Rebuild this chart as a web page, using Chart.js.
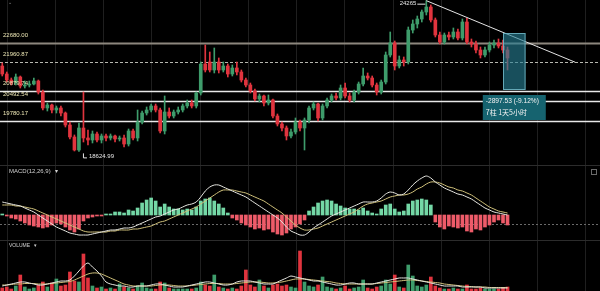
<!DOCTYPE html>
<html>
<head>
<meta charset="utf-8">
<script src="https://cdn.jsdelivr.net/npm/chart.js@4/dist/chart.umd.min.js"></script>
<style>
  html, body { margin: 0; padding: 0; background: #000; }
  #wrap { position: relative; width: 600px; height: 291px; }
</style>
</head>
<body>
<div id="wrap"><canvas id="chart"></canvas></div>
<script>
// 113 candles, then empty slots to the right for the drawings
const slotCount = 133;

const opens = [
  21820,21521,21296,21184,21409,21072,21109,21147,21259,20847,
  20249,20361,20174,20249,20061,19612,19164,18677,19500,19126,
  19051,19276,19051,19201,19126,19201,19089,19126,18901,19388,
  19126,19725,20061,20174,20324,20174,19388,20099,19949,20099,
  20174,20324,20436,20324,20810,21895,21970,21671,21970,21671,
  21820,21521,21746,21596,21296,21109,20885,20585,20698,20436,
  20548,19949,19650,19500,19201,19351,19725,19500,19800,20249,
  20398,19874,20324,20548,20698,20623,20997,20698,20548,20847,
  21147,21446,21371,21109,20847,21221,22232,22681,21820,22045,
  21970,23167,23392,23579,23841,24028,23542,22980,22718,22980,
  22906,23093,22868,23467,22718,22643,22419,22232,22419,22606,
  22681,22569,22419
];
const closes = [
  21521,21296,21184,21409,21072,21109,21147,21259,20847,20249,
  20361,20174,20249,20061,19612,19164,18677,19500,19126,19051,
  19276,19051,19201,19126,19201,19089,19126,18901,19388,19126,
  19725,20061,20174,20324,20174,19388,20099,19949,20099,20174,
  20324,20436,20324,20810,21895,21671,21671,21970,21671,21820,
  21521,21746,21596,21296,21109,20885,20585,20698,20436,20548,
  19949,19650,19500,19201,19351,19725,19500,19800,20249,20398,
  19874,20324,20548,20698,20623,20997,20698,20548,20847,21147,
  21446,21371,21109,20847,21221,22232,22681,21820,22045,21970,
  23167,23392,23579,23841,24028,23542,22980,22718,22980,22906,
  23093,22868,23467,22718,22643,22419,22232,22419,22606,22681,
  22569,22419,22120
];
const highs = [
  21933,21596,21371,21521,21446,21259,21259,21371,21296,20922,
  20436,20398,20324,20324,20099,19725,19239,19687,20847,19425,
  19388,19351,19276,19276,19276,19239,19201,19239,19463,19463,
  20174,20136,20286,20398,20398,20249,20698,20249,20174,20286,
  20398,20548,20548,20847,21970,22606,22344,22494,22120,21970,
  21895,21858,21970,21671,21371,21184,20960,20773,20735,20735,
  20585,20024,19725,19575,19463,19874,19800,19874,20324,20473,
  20436,20398,20623,20773,20810,21109,21184,20810,20922,21221,
  21746,21559,21446,21184,21296,22344,23093,22756,22194,22157,
  23280,23542,23691,23916,24265,24103,23617,23093,23055,23093,
  23242,23205,23579,23617,22831,22756,22531,22531,22718,22793,
  22831,22793,22531
];
const lows = [
  21446,21221,21109,21109,20997,20997,21035,21109,20772,20174,
  20136,20061,20061,19949,19537,19089,18640,18625,18976,18864,
  18939,18976,18939,19014,19051,18976,19014,18789,18826,19051,
  19014,19650,19986,20099,20099,19313,19276,19874,19874,20024,
  20099,20249,20249,20249,20735,21596,21596,21559,21559,21596,
  21409,21446,21484,21221,21035,20810,20511,20473,20324,20361,
  19874,19575,19388,19051,19126,19276,19388,18677,19687,20174,
  19762,19800,20249,20473,20548,20548,20623,20473,20473,20772,
  21072,21296,21035,20735,20772,21147,22157,21671,21746,21820,
  21895,23055,23242,23467,23729,23467,22906,22643,22643,22793,
  22831,22793,22793,22643,22531,22307,22120,22157,22344,22494,
  22494,22307,21671
];

const macdHist = [
  10,-10,-30,-40,-60,-80,-100,-110,-120,-130,
  -120,-100,-80,-90,-120,-150,-170,-140,-60,-30,
  -20,-10,-10,10,10,30,30,20,50,40,
  70,120,150,170,140,80,110,80,60,60,
  50,60,50,80,140,160,170,140,110,70,
  20,-30,-50,-80,-100,-120,-140,-130,-150,-140,
  -170,-190,-200,-180,-140,-120,-90,-50,40,80,
  120,140,150,140,110,90,70,60,60,50,
  70,40,20,10,60,100,110,60,30,40,
  110,140,150,160,150,100,-70,-120,-140,-110,
  -120,-130,-120,-160,-170,-140,-150,-120,-100,-70,
  -50,-80,-100
];
const macdDif = [
  130,120,110,100,90,70,50,30,0,-30,
  -60,-90,-120,-140,-160,-180,-190,-200,-200,-200,
  -190,-180,-170,-160,-150,-150,-140,-130,-130,-120,
  -100,-80,-60,-40,-20,-10,10,30,50,60,
  80,100,110,130,180,240,280,300,300,280,
  260,240,220,200,180,150,120,90,60,30,
  0,-30,-70,-120,-160,-180,-200,-200,-170,-130,
  -100,-70,-40,-10,10,30,50,70,90,110,
  130,130,130,140,170,210,230,220,200,210,
  250,300,340,370,390,370,330,300,270,250,
  230,210,200,180,160,130,100,70,50,30,
  20,10,0
];
const macdDea = [
  100,100,100,90,90,80,70,60,40,20,
  0,-20,-40,-60,-80,-100,-120,-140,-160,-170,
  -170,-170,-170,-170,-160,-160,-150,-150,-150,-140,
  -140,-130,-120,-110,-90,-70,-60,-40,-20,0,
  20,40,60,80,110,140,170,200,230,250,
  250,250,240,230,220,200,180,160,140,110,
  80,50,20,-20,-60,-100,-130,-150,-150,-140,
  -130,-110,-90,-70,-50,-30,-10,10,30,60,
  90,110,120,130,140,160,180,190,200,200,
  210,230,260,280,310,330,330,320,300,280,
  270,250,240,220,200,170,140,110,80,60,
  40,30,20
];

const volumes = [
  300,400,200,500,1600,400,200,300,600,900,
  400,800,1200,500,600,1900,1000,900,3700,1300,
  500,300,400,200,300,200,700,400,300,200,
  500,800,300,200,200,900,800,300,200,200,
  200,200,200,300,900,600,500,1600,400,300,
  200,300,200,500,2100,600,400,1100,500,300,
  600,700,500,600,400,300,4000,900,500,400,
  600,1400,400,300,200,300,500,200,300,400,
  1100,300,200,400,500,1100,700,1600,400,300,
  2600,1500,500,400,600,1400,500,300,200,200,
  300,200,200,600,200,200,300,200,200,200,
  200,300,400
];
const volMa5 = [
  500,600,700,800,900,900,800,700,600,600,
  700,800,900,1000,1000,1100,1500,2000,2500,2800,
  2400,2000,1500,900,700,600,500,500,400,400,
  500,500,500,600,700,700,600,500,400,400,
  400,500,600,700,800,900,900,800,700,600,
  600,700,900,1000,1000,1000,900,800,700,700,
  700,900,1100,1300,1500,1400,1300,1200,1100,1000,
  1000,900,800,700,600,600,700,800,800,700,
  700,700,700,800,900,1000,1100,1200,1300,1300,
  1300,1200,1100,1000,900,800,700,600,500,500,
  500,500,400,400,400,400,400,300,300,300,
  300,300,300
];
const volMa10 = [
  600,600,650,700,700,750,750,750,700,700,
  700,750,800,850,900,950,1100,1300,1500,1700,
  1800,1800,1700,1500,1300,1100,900,700,600,500,
  500,500,500,500,550,600,600,600,550,500,
  500,500,550,600,650,700,750,750,750,700,
  700,700,750,800,850,900,900,900,850,800,
  800,850,900,1000,1100,1200,1200,1200,1150,1100,
  1050,1000,950,900,800,750,700,700,700,700,
  700,700,700,750,800,850,900,950,1000,1050,
  1100,1100,1050,1000,950,900,850,800,700,650,
  600,550,500,450,450,400,400,400,350,350,
  350,350,350
];

// horizontal price levels and their captions
const levels = [22680.00, 21960.87, 20879.74, 20492.54, 19780.17];
const levelLabels = ['22680.00', '21960.87', '20879.74', '20492.54', '19780.17'];
const macdRefLevel = -90;

const peak = { slot: 94, price: 24265, label: '24265' };
const trough = { slot: 17, price: 18624.99, label: '18624.99' };
const trendEnd = { slot: 127, price: 21960.87 };
const measure = { from: 111, to: 116, top: 23055, bottom: 20922,
  line1: '-2897.53 (-9.12%)', line2: '7柱 1天5小时' };

const slots = Array.from({ length: slotCount }, (_, i) => String(i));

const UP = '#3e9c6b', DOWN = '#e0343e';
const HIST_UP = '#74d8a6', HIST_DOWN = '#ee5b69';
const candleColors = closes.map((c, i) => c >= opens[i] ? UP : DOWN);

// vertical grid spacing and pane borders (layout only)
const gridXs = [7, 59.6, 112.2, 164.8, 217.4, 270, 322.6, 375.2, 427.8, 480.4, 533, 585.6];
const paneTops = [165, 240];

const overlay = {
  id: 'overlay',
  beforeDatasetsDraw(chart) {
    const { ctx, chartArea: a, scales } = chart;
    const yP = scales.yP, yM = scales.yM;
    ctx.save();
    // pane separators
    ctx.strokeStyle = '#2c2c2c';
    ctx.lineWidth = 1;
    paneTops.forEach(y => {
      ctx.beginPath(); ctx.moveTo(a.left, y + 0.5); ctx.lineTo(a.right, y + 0.5); ctx.stroke();
    });
    // dashed reference line in the MACD pane
    const my = Math.round(yM.getPixelForValue(macdRefLevel)) + 0.5;
    ctx.setLineDash([2, 2]);
    ctx.strokeStyle = '#6a6a6a';
    ctx.beginPath(); ctx.moveTo(a.left, my); ctx.lineTo(a.right, my); ctx.stroke();
    ctx.setLineDash([]);

    // price levels
    const styles = [
      { color: '#8d877e', width: 2, dash: [] },
      { color: '#b8b8b0', width: 1, dash: [3, 2] },
      { color: '#e8e8e8', width: 1.5, dash: [] },
      { color: '#e8e8e8', width: 1.5, dash: [] },
      { color: '#e8e8e8', width: 1.5, dash: [] }
    ];
    levels.forEach((p, i) => {
      const y = Math.round(yP.getPixelForValue(p)) + 0.5;
      const s = styles[i];
      ctx.strokeStyle = s.color;
      ctx.lineWidth = s.width;
      ctx.setLineDash(s.dash);
      ctx.beginPath(); ctx.moveTo(a.left, y); ctx.lineTo(a.right, y); ctx.stroke();
    });
    ctx.setLineDash([]);
    ctx.restore();
  },
  afterDatasetsDraw(chart) {
    const { ctx, scales } = chart;
    const x = scales.x, yP = scales.yP;
    ctx.save();
    ctx.font = '6px "Liberation Sans", Arial, sans-serif';
    ctx.textBaseline = 'middle';

    // level captions
    ctx.fillStyle = '#ece6b4';
    levels.forEach((p, i) => {
      const y = yP.getPixelForValue(p);
      ctx.fillText(levelLabels[i], 3, y - 7.5);
    });

    // peak / trough markers
    ctx.fillStyle = '#e6e6e6';
    ctx.strokeStyle = '#e6e6e6';
    ctx.lineWidth = 1;
    const px = x.getPixelForValue(peak.slot);
    const py = yP.getPixelForValue(peak.price) + 3;
    ctx.textAlign = 'right';
    ctx.fillText(peak.label, px - 10, py);
    ctx.beginPath(); ctx.moveTo(px - 9, py + 0.5); ctx.lineTo(px - 1, py + 0.5); ctx.stroke();
    const tx = x.getPixelForValue(trough.slot);
    const ty = yP.getPixelForValue(trough.price) + 5;
    ctx.textAlign = 'left';
    ctx.fillText(trough.label, tx + 10, ty);
    ctx.beginPath(); ctx.moveTo(tx + 4.5, ty - 3); ctx.lineTo(tx + 4.5, ty + 1.5); ctx.lineTo(tx + 8, ty + 1.5); ctx.stroke();

    // measurement box
    const bx0 = x.getPixelForValue(measure.from);
    const bx1 = x.getPixelForValue(measure.to);
    const by0 = yP.getPixelForValue(measure.top);
    const by1 = yP.getPixelForValue(measure.bottom);
    ctx.fillStyle = 'rgba(38,128,148,0.62)';
    ctx.fillRect(bx0, by0, bx1 - bx0, by1 - by0);
    ctx.strokeStyle = 'rgba(120,190,205,0.8)';
    ctx.strokeRect(bx0 + 0.5, by0 + 0.5, bx1 - bx0 - 1, by1 - by0 - 1);

    // measurement caption
    const cw = 63, ch = 25;
    const cx = (bx0 + bx1) / 2 - cw / 2;
    const cy = by1 + 5;
    ctx.fillStyle = '#16636f';
    ctx.fillRect(cx, cy, cw, ch);
    ctx.fillStyle = '#f2f2f2';
    ctx.textAlign = 'left';
    ctx.font = '6.6px "Liberation Sans", Arial, sans-serif';
    ctx.fillText(measure.line1, cx + 3, cy + 6.5);
    ctx.font = '7px "Noto Sans CJK SC", sans-serif';
    ctx.fillText(measure.line2, cx + 3, cy + 17.5);

    // pane titles
    ctx.font = '6px "Liberation Sans", Arial, sans-serif';
    ctx.fillStyle = '#d0d0d0';
    ctx.fillText('MACD(12,26,9)', 9, paneTops[0] + 6);
    ctx.fillText('▾', 55, paneTops[0] + 6);
    ctx.font = '5px "Liberation Sans", Arial, sans-serif';
    ctx.fillText('VOLUME', 9, paneTops[1] + 6);
    ctx.fillText('▾', 34, paneTops[1] + 6);
    ctx.fillStyle = '#9a9a9a';
    ctx.fillText('⌄', 8, 3);
    ctx.strokeStyle = '#6a6a6a';
    ctx.strokeRect(591.5, paneTops[0] + 4.5, 5, 5);
    ctx.restore();
  }
};

new Chart(document.getElementById('chart'), {
  type: 'bar',
  data: {
    labels: slots,
    datasets: [
      {
        type: 'line', yAxisID: 'yP', order: 0,
        data: [{ x: String(peak.slot), y: peak.price }, { x: String(trendEnd.slot), y: trendEnd.price }],
        borderColor: '#e4e4e4', borderWidth: 1, pointRadius: 0, tension: 0
      },
      {
        yAxisID: 'yP', order: 1,
        data: opens.map((o, i) => [o, closes[i]]),
        backgroundColor: candleColors,
        barThickness: 3, grouped: false, minBarLength: 1
      },
      {
        yAxisID: 'yP', order: 2,
        data: lows.map((l, i) => [l, highs[i]]),
        backgroundColor: candleColors,
        barThickness: 1, grouped: false
      },
      {
        type: 'line', yAxisID: 'yM', order: 3,
        data: macdDif, borderColor: '#e6e6e0', borderWidth: 1, pointRadius: 0, tension: 0.3
      },
      {
        type: 'line', yAxisID: 'yM', order: 4,
        data: macdDea, borderColor: '#cfc07a', borderWidth: 1, pointRadius: 0, tension: 0.3
      },
      {
        yAxisID: 'yM', order: 5,
        data: macdHist,
        backgroundColor: macdHist.map(v => v >= 0 ? HIST_UP : HIST_DOWN),
        barThickness: 3, grouped: false
      },
      {
        type: 'line', yAxisID: 'yV', order: 6,
        data: volMa5, borderColor: '#e6e6e0', borderWidth: 1, pointRadius: 0, tension: 0.3
      },
      {
        type: 'line', yAxisID: 'yV', order: 7,
        data: volMa10, borderColor: '#cfc07a', borderWidth: 1, pointRadius: 0, tension: 0.3
      },
      {
        yAxisID: 'yV', order: 8,
        data: volumes,
        backgroundColor: candleColors,
        barThickness: 3, grouped: false
      }
    ]
  },
  options: {
    responsive: true,
    maintainAspectRatio: false,
    animation: false,
    layout: { padding: 0 },
    plugins: { legend: { display: false }, tooltip: { enabled: false } },
    scales: {
      x: { type: 'category', offset: true, display: false },
      xGrid: {
        type: 'linear', position: 'bottom', min: 0, max: 600,
        afterBuildTicks: (scale) => { scale.ticks = gridXs.map(v => ({ value: v })); },
        ticks: { display: false },
        grid: { color: '#1f1f1f', drawTicks: false },
        border: { display: false }
      },
      yP: { display: false, min: 13400, max: 24290 },
      yM: { display: false, min: -760, max: 2150 },
      yV: { display: false, min: 0, max: 29100 }
    }
  },
  plugins: [overlay]
});
</script>
</body>
</html>
